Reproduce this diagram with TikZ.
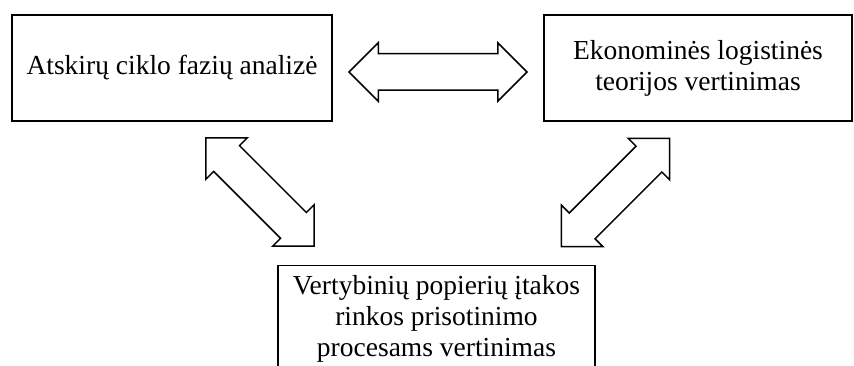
\documentclass[tikz,border=0pt]{standalone}
\usepackage{fontspec}
\setmainfont{Liberation Serif}
\usetikzlibrary{shapes.arrows,calc}

\begin{document}
\begin{tikzpicture}[x=1pt,y=1pt]
        \tikzstyle{box}=[rectangle,draw=black,line width=1.5pt,align=center,
        inner sep=0pt,font=\fontsize{27.5}{31}\selectfont]
        \tikzstyle{link}=[double arrow,draw=black,fill=white,line width=1.5pt,
        double arrow tip angle=90,double arrow head extend=11pt,
        inner xsep=0pt,inner ysep=17.5pt,minimum width=57pt]
        \useasboundingbox (0,0) rectangle (854,366);
        \node at (172,298) [box,minimum width=320pt,minimum height=106pt] (faziu) {Atskirų ciklo fazių analizė};
        \node at (698,298) [box,minimum width=308pt,minimum height=106pt] (teorija) {Ekonominės logistinės\\teorijos vertinimas};
        \node at (436.5,101) [box,anchor=north,minimum width=317pt,inner ysep=9.5pt] (procesai) {Vertybinių popierių įtakos\\rinkos prisotinimo\\procesams vertinimas};
        \node at ($(faziu.east)!0.5!(teorija.west)+(0,-4)$) [link,minimum height=178pt] (ryshys1) {};
        \node at (260,174) [link,minimum height=153pt,rotate=-45] (ryshys2) {};
        \node at (615.5,173.5) [link,minimum height=153pt,rotate=45] (ryshys3) {};
        %\draw [<->] (faziu.east) -- (teorija.west);
\end{tikzpicture}
\end{document}
